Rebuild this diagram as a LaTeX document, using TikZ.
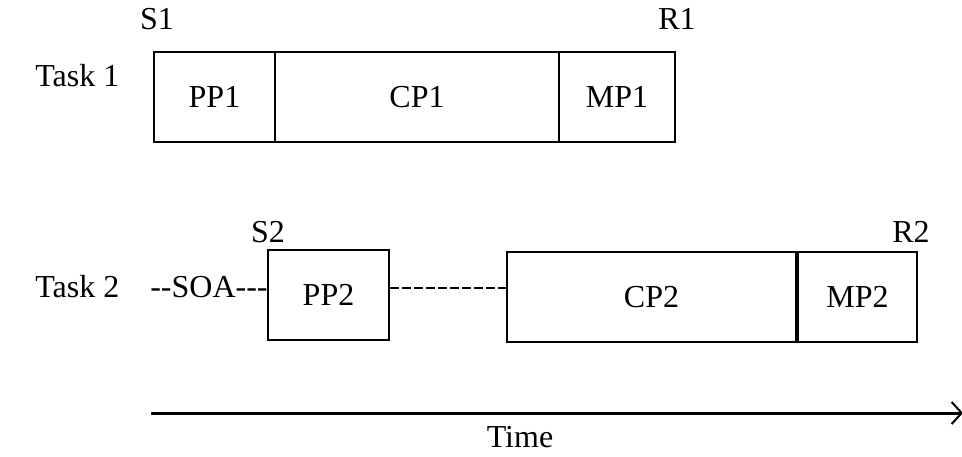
\documentclass[tikz,border=0pt]{standalone}
\usepackage{fontspec}
\setmainfont{Liberation Serif}
\usetikzlibrary{arrows.meta}

\begin{document}
\begin{tikzpicture}[x=0.5pt,y=-0.5pt,
  every node/.style={font=\fontsize{16}{19}\selectfont},
  stage/.style={shape=rectangle,draw=black,line width=1pt,inner sep=0pt,minimum height=45pt},
  lbl/.style={inner sep=0pt}]
\useasboundingbox (0,0) rectangle (962,456);

\node[lbl,anchor=base west] (task1) at (35,86) {Task 1};
\node[lbl] (s1) at (157,19) {S1};
\node[lbl] (r1) at (677,19) {R1};
\node[stage,minimum width=60.5pt] (pp1) at (214.5,97) {PP1};
\node[stage,minimum width=142pt] (cp1) at (417,97) {CP1};
\node[stage,minimum width=58pt] (mp1) at (617,97) {MP1};

\node[lbl,anchor=base west] (task2) at (35,297) {Task 2};
\node[lbl] (s2) at (268,232) {S2};
\node[lbl] (r2) at (911,232) {R2};
\node[stage,minimum width=60.5pt] (pp2) at (328.5,295) {PP2};
\node[stage,minimum width=144.5pt] (cp2) at (651.5,297) {CP2};
\node[stage,minimum width=59.5pt] (mp2) at (857.5,297) {MP2};
\node[lbl,anchor=base east] (soa) at (268,297) {{-}{-}SOA{-}{-}{-}};

\draw[line width=0.8pt,dash pattern=on 4.5pt off 1.5pt] ([yshift=3.5pt]pp2.east) -- ([yshift=4.5pt]cp2.west);

\coordinate (t0) at (151,413);
\coordinate (t1) at (963,413);
\draw[line width=1.5pt,-{Straight Barb[length=5pt,width=11pt,line width=1pt]}] (t0) -- (t1);
\node[lbl] (time) at (520,437) {Time};
\end{tikzpicture}
\end{document}
